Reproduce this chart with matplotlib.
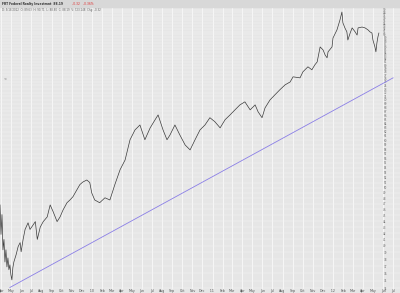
import numpy as np
import pandas as pd
import matplotlib
matplotlib.use("Agg")
import matplotlib.pyplot as plt
import matplotlib.dates as mdates
from matplotlib.ticker import FixedLocator, NullLocator, FuncFormatter

# FRT daily closes (approx)
dates = ["2009-03-28", "2009-03-31", "2009-04-03", "2009-04-06", "2009-04-09", "2009-04-12",
         "2009-04-15", "2009-04-18", "2009-04-21", "2009-04-24", "2009-04-27", "2009-04-30",
         "2009-05-03", "2009-05-06", "2009-05-09", "2009-05-16", "2009-05-22", "2009-05-28",
         "2009-05-31", "2009-06-06", "2009-06-12", "2009-06-21", "2009-06-27", "2009-07-07",
         "2009-07-13", "2009-07-19", "2009-07-28", "2009-08-06", "2009-08-18", "2009-08-27",
         "2009-09-05", "2009-09-17", "2009-09-26", "2009-10-05", "2009-10-17", "2009-10-26",
         "2009-11-04", "2009-11-16", "2009-11-25", "2009-12-04", "2009-12-16", "2009-12-25",
         "2009-12-31", "2010-01-09", "2010-01-24", "2010-02-09", "2010-02-24", "2010-03-11",
         "2010-03-27", "2010-04-11", "2010-04-26", "2010-05-11", "2010-05-26", "2010-06-10",
         "2010-06-26", "2010-07-11", "2010-07-20", "2010-08-04", "2010-08-16", "2010-08-25",
         "2010-09-09", "2010-09-24", "2010-10-10", "2010-10-25", "2010-11-09", "2010-11-24",
         "2010-12-09", "2010-12-24", "2011-01-08", "2011-01-24", "2011-02-08", "2011-02-23",
         "2011-03-10", "2011-03-25", "2011-04-09", "2011-04-25", "2011-05-10", "2011-05-19",
         "2011-05-31", "2011-06-09", "2011-06-24", "2011-07-09", "2011-07-24", "2011-08-09",
         "2011-08-24", "2011-09-02", "2011-09-23", "2011-10-02", "2011-10-17", "2011-10-29",
         "2011-11-07", "2011-11-14", "2011-11-23", "2011-12-02", "2011-12-08", "2011-12-14",
         "2011-12-17", "2011-12-29", "2012-01-01", "2012-01-13", "2012-01-22", "2012-01-28",
         "2012-01-31", "2012-02-06", "2012-02-12", "2012-02-15", "2012-02-22", "2012-02-28",
         "2012-03-08", "2012-03-14", "2012-03-17", "2012-03-29", "2012-04-07", "2012-04-16",
         "2012-04-22", "2012-04-28", "2012-05-01", "2012-05-07", "2012-05-10", "2012-05-13",
         "2012-05-16", "2012-05-19"]
closes = [46.8, 41.8, 45.1, 39.4, 41.0, 37.6,
          39.4, 36.9, 38.2, 36.5, 37.2, 35.8,
          35.1, 36.8, 37.6, 38.7, 39.9, 40.5,
          39.1, 41.0, 42.6, 43.7, 42.6, 43.4,
          43.9, 41.0, 43.0, 43.9, 44.7, 46.8,
          45.6, 43.9, 44.7, 45.9, 47.2, 47.7,
          48.3, 49.6, 50.6, 51.1, 51.5, 51.0,
          49.0, 47.7, 47.2, 48.1, 47.7, 50.6,
          53.6, 55.6, 60.1, 62.4, 63.6, 60.1,
          62.9, 64.9, 66.1, 62.4, 60.1, 61.2,
          63.6, 61.2, 58.9, 57.8, 60.1, 62.4,
          63.6, 65.4, 64.4, 62.9, 64.9, 66.1,
          67.4, 68.7, 69.5, 67.4, 68.7, 66.9,
          65.4, 67.9, 70.0, 71.4, 72.8, 74.2,
          75.0, 76.5, 76.2, 78.0, 79.5, 78.6,
          80.1, 81.0, 85.8, 84.8, 83.2, 82.3,
          84.2, 85.8, 88.8, 91.6, 95.1, 98.1,
          94.1, 92.3, 90.9, 88.1, 90.5, 92.3,
          90.9, 89.8, 92.3, 92.6, 92.3, 91.6,
          90.9, 90.5, 88.1, 85.8, 84.2, 87.1,
          89.1, 90.5]

# trend line end points
trend_dates = ["2009-04-27", "2012-07-01"]
trend_prices = [34.1, 76.2]

price_ticks = list(range(34, 101))
title_main = "FRT Federal Realty Investmnt  88.19"
title_chg = "-0.32   -0.36%"
info_line = "D: 5/18/2012  O: 89.63  H: 90.71  L: 88.80  C: 88.19  V: 723,148  Chg: -0.32"

W, H = 400, 293
fig = plt.figure(figsize=(W / 100, H / 100), dpi=100, facecolor="#e6e6e6")
ax = fig.add_axes([0, 4 / H, 1, (289 - 7) / H])
ax.set_facecolor("#e6e6e6")

x = pd.to_datetime(dates)
ax.plot(x, closes, color="#3a3a3a", lw=0.5, zorder=3)
ax.plot(pd.to_datetime(trend_dates), trend_prices, color="#8a7ee6", lw=0.6, zorder=2)

ax.set_yscale("log")
ax.set_ylim(33.9, 100)
ax.set_xlim(pd.Timestamp("2009-03-28"), pd.Timestamp("2012-07-22"))

ax.yaxis.set_major_locator(FixedLocator(price_ticks))
ax.yaxis.set_minor_locator(NullLocator())
ax.yaxis.set_major_formatter(FuncFormatter(lambda v, p: "%d" % round(v)))
ax.yaxis.tick_right()
ax.tick_params(axis="y", which="both", length=0, pad=-12, labelsize=2.0,
               labelcolor="#666666")

ax.xaxis.set_major_locator(mdates.MonthLocator())
ax.xaxis.set_major_formatter(FuncFormatter(
    lambda v, p: ("'" + mdates.num2date(v).strftime("%y")) if mdates.num2date(v).month == 1
    else mdates.num2date(v).strftime("%b")))
ax.tick_params(axis="x", length=0, pad=0.3, labelsize=2.3, labelcolor="#555555")

ax.grid(True, axis="y", color="#f3f3f3", lw=0.35)
ax.grid(True, axis="x", color="#fafafa", lw=0.6)
for s in ax.spines.values():
    s.set_visible(False)

# header bar
fig.patches.append(plt.Rectangle((0, 1 - 7 / H), 1, 7 / H, transform=fig.transFigure,
                                 color="#d8d8d8", zorder=0))
fig.text(2 / W, 1 - 3.8 / H, title_main, fontsize=2.2, color="#333333",
         fontweight="bold", va="center")
fig.text(72 / W, 1 - 3.8 / H, title_chg, fontsize=2.2, color="#e03030", va="center")
fig.text(2 / W, 1 - 10.5 / H, info_line, fontsize=1.9, color="#666666", va="center")
fig.text(4 / W, 1 - 78 / H, "<", fontsize=2.5, color="#666666", va="center")

fig.savefig("out.png", dpi=100, facecolor=fig.get_facecolor())
